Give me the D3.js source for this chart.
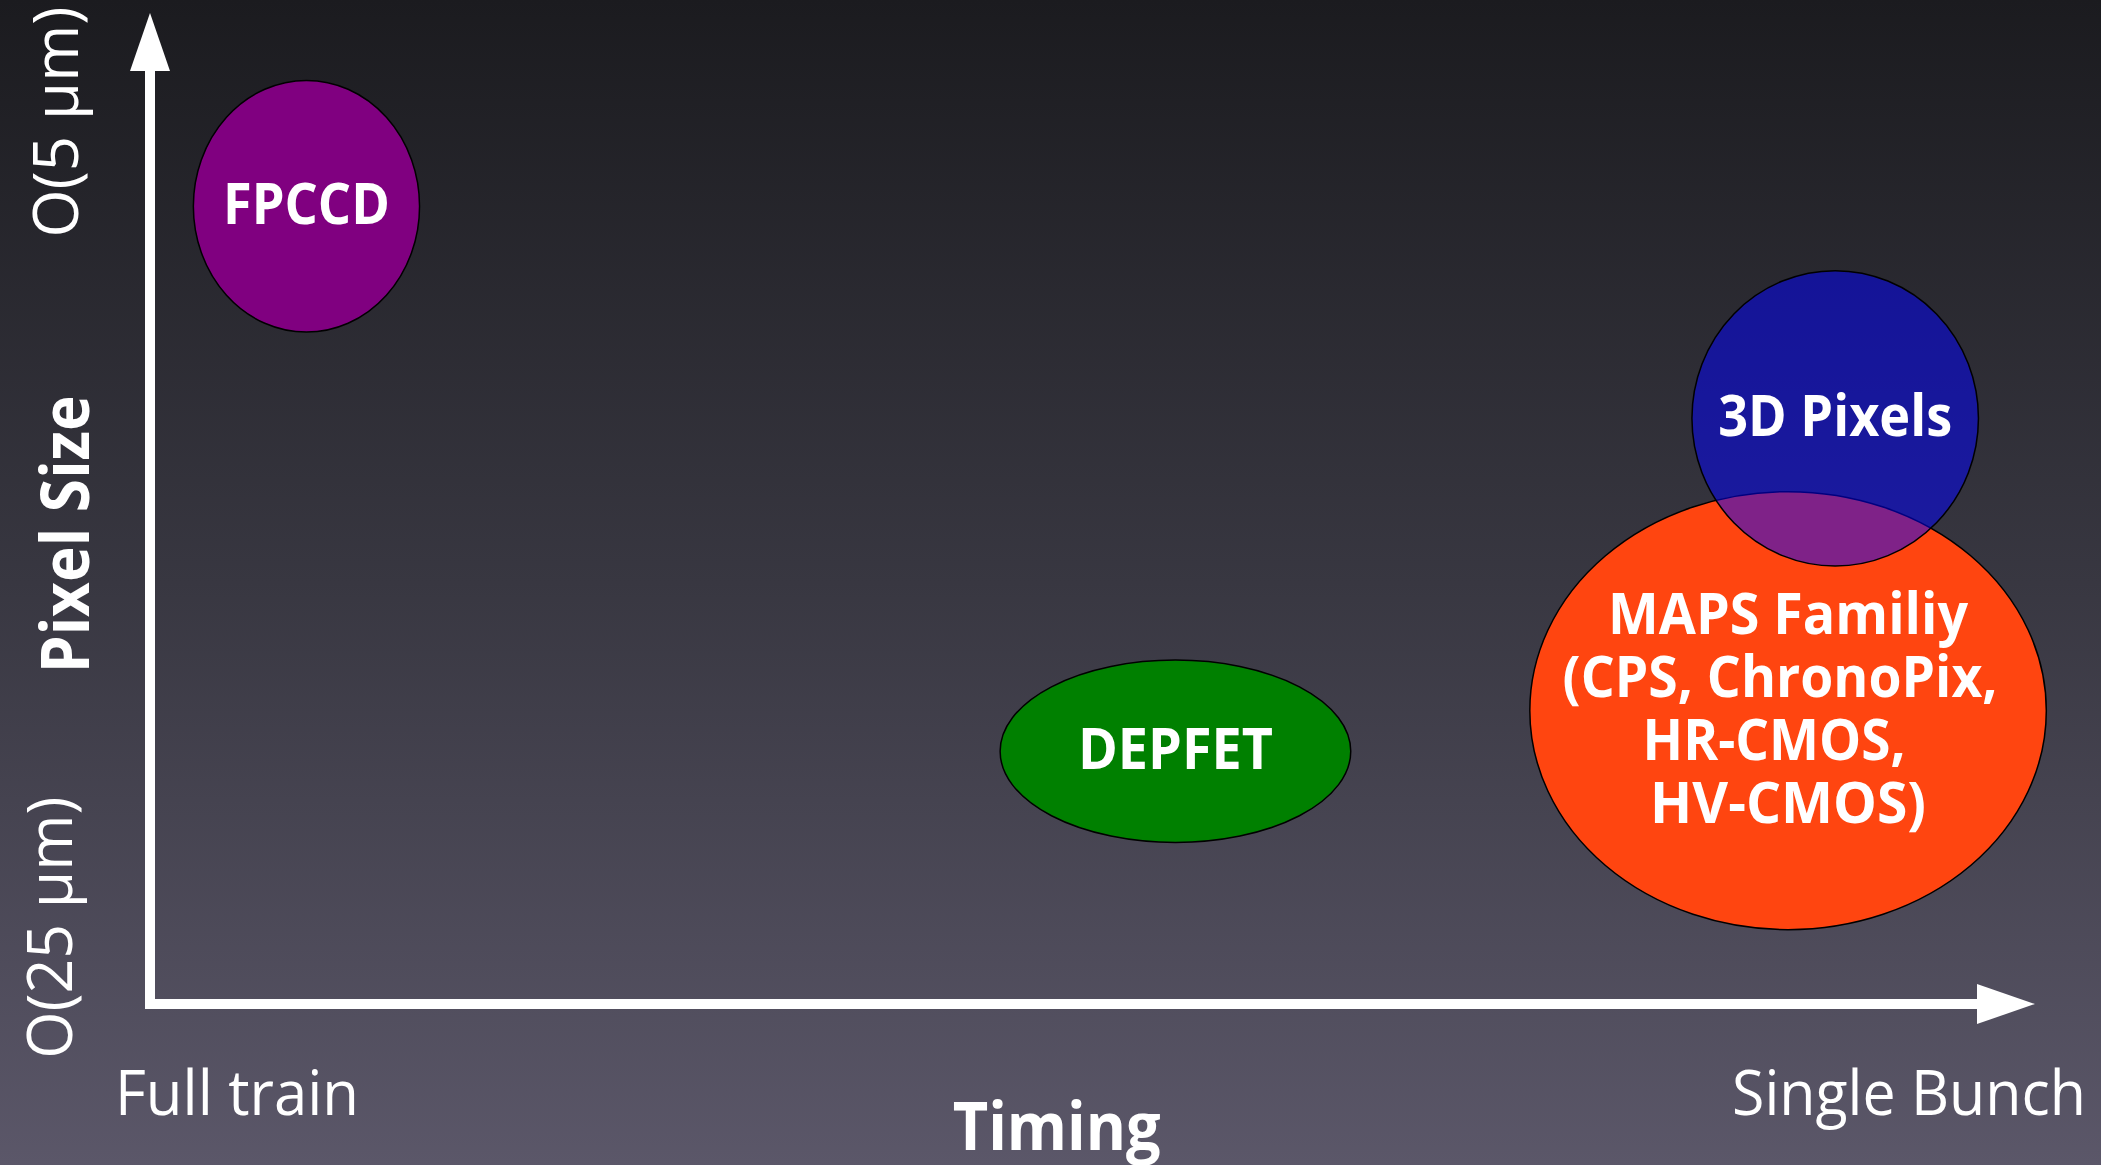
<!DOCTYPE html>
<html>
<head>
<meta charset="utf-8">
<script src="https://cdn.jsdelivr.net/npm/d3@7"></script>
<style>
  html, body { margin: 0; padding: 0; overflow: hidden; background: #2b2a31; }
  svg { display: block; }
</style>
</head>
<body>
<svg id="chart"></svg>
<script>
// Vertex-detector technologies placed by readout timing (x) and pixel size (y).
const technologies = ["FPCCD", "DEPFET", "MAPS Familiy", "3D Pixels"];
const timingCentre = [8.3, 54.4, 86.9, 89.4];     // 0 = full train, 100 = single bunch
const timingSpread = [6.0, 9.3, 13.7, 7.6];
const sizeCentre   = [80.5, 25.5, 29.6, 59.1];    // 0 = O(25 µm), 100 = O(5 µm)
const sizeSpread   = [12.7, 9.2, 22.1, 14.9];
const labelLines = [
  ["FPCCD"],
  ["DEPFET"],
  ["MAPS Familiy", "(CPS, ChronoPix,", "HR-CMOS,", "HV-CMOS)"],
  ["3D Pixels"]
];
const timingTicks = ["Full train", "Single Bunch"];
const sizeTicks   = ["O(25 µm)", "O(5 µm)"];
const axisTitles  = ["Timing", "Pixel Size"];

// Styling
const W = 2101, H = 1165;
const fills = ["#800080", "#008000", "#ff4510", "rgba(0, 0, 255, 0.5)"];
const FONT = "'Open Sans', 'DejaVu Sans', sans-serif";
const textWidths = {
  "FPCCD": 167, "DEPFET": 195, "MAPS Familiy": 360, "(CPS, ChronoPix,": 435,
  "HR-CMOS,": 263, "HV-CMOS)": 276, "3D Pixels": 234,
  "Full train": 244, "Single Bunch": 354, "Timing": 208, "Pixel Size": 278,
  "O(25 µm)": 262, "O(5 µm)": 231
};
// lines ending in a comma sit a little left of the centre
const lineShift = { "(CPS, ChronoPix,": -8, "HR-CMOS,": -14 };

const svg = d3.select("#chart").attr("width", W).attr("height", H);

// Background gradient
const defs = svg.append("defs");
const bg = defs.append("linearGradient").attr("id", "bg")
  .attr("x1", 0).attr("y1", 0).attr("x2", 0).attr("y2", 1);
bg.append("stop").attr("offset", "0%").attr("stop-color", "#1b1b1f");
bg.append("stop").attr("offset", "50%").attr("stop-color", "#383741");
bg.append("stop").attr("offset", "100%").attr("stop-color", "#5b5769");
svg.append("rect").attr("width", W).attr("height", H).attr("fill", "url(#bg)");

// Scales: the axis arrows run along the full range of each scale
const x = d3.scaleLinear().domain([0, 100]).range([150, 2035]);
const y = d3.scaleLinear().domain([0, 100]).range([1004, 13]);
const kx = (x(100) - x(0)) / 100;
const ky = (y(0) - y(100)) / 100;

// Axes as arrows
const axis = svg.append("g").attr("fill", "#ffffff").attr("stroke", "#ffffff");
const head = 58, halfW = 20, lw = 10;
axis.append("line")
  .attr("x1", x(0)).attr("y1", y(0) + lw / 2)
  .attr("x2", x(0)).attr("y2", y(100) + head)
  .attr("stroke-width", lw);
axis.append("path").attr("stroke", "none")
  .attr("d", `M${x(0)},${y(100)} L${x(0) + halfW},${y(100) + head} L${x(0) - halfW},${y(100) + head} Z`);
axis.append("line")
  .attr("x1", x(0)).attr("y1", y(0))
  .attr("x2", x(100) - head).attr("y2", y(0))
  .attr("stroke-width", lw);
axis.append("path").attr("stroke", "none")
  .attr("d", `M${x(100)},${y(0)} L${x(100) - head},${y(0) - halfW} L${x(100) - head},${y(0) + halfW} Z`);

function fitText(sel) {
  sel.each(function () {
    const t = d3.select(this).text();
    if (textWidths[t]) d3.select(this).attr("textLength", textWidths[t]).attr("lengthAdjust", "spacingAndGlyphs");
  });
}

// Ellipses
const items = technologies.map((name, i) => ({
  name, i,
  cx: x(timingCentre[i]), cy: y(sizeCentre[i]),
  rx: timingSpread[i] * kx, ry: sizeSpread[i] * ky,
  lines: labelLines[i]
}));

svg.append("g").selectAll("ellipse").data(items).join("ellipse")
  .attr("cx", d => d.cx).attr("cy", d => d.cy)
  .attr("rx", d => d.rx).attr("ry", d => d.ry)
  .attr("fill", d => fills[d.i])
  .attr("stroke", "#000000").attr("stroke-width", 1.5);

// Labels inside the ellipses: one text per ellipse, one tspan per line
const lineH = 63;
const labels = svg.append("g")
  .attr("font-family", FONT).attr("font-weight", 700).attr("font-size", 58)
  .attr("fill", "#ffffff").attr("text-anchor", "middle");
items.forEach(d => {
  const n = d.lines.length;
  const t = labels.append("text");
  t.selectAll("tspan").data(d.lines).join("tspan")
    .attr("x", l => d.cx + (lineShift[l] || 0))
    .attr("y", (l, j) => d.cy + 18 + (j - (n - 1) / 2) * lineH)
    .text(l => l)
    .call(fitText);
});

// Timing axis labels
const tx = svg.append("g").attr("font-family", FONT).attr("fill", "#ffffff");
tx.append("text").attr("x", x(0) - 35).attr("y", 1115)
  .attr("font-size", 62).attr("text-anchor", "start")
  .text(timingTicks[0]).call(fitText);
tx.append("text").attr("x", x(100) + 51).attr("y", 1115)
  .attr("font-size", 62).attr("text-anchor", "end")
  .text(timingTicks[1]).call(fitText);
tx.append("text").attr("x", x(48.1)).attr("y", 1150)
  .attr("font-size", 66).attr("font-weight", 700).attr("text-anchor", "middle")
  .text(axisTitles[0]).call(fitText);

// Pixel size axis labels (rotated)
const ty = svg.append("g").attr("font-family", FONT).attr("fill", "#ffffff").attr("text-anchor", "middle");
ty.append("text").attr("transform", `translate(72,${y(7.7)}) rotate(-90)`)
  .attr("font-size", 62).text(sizeTicks[0]).call(fitText);
ty.append("text").attr("transform", `translate(78,${y(89)}) rotate(-90)`)
  .attr("font-size", 62).text(sizeTicks[1]).call(fitText);
ty.append("text").attr("transform", `translate(89,${y(47.4)}) rotate(-90)`)
  .attr("font-size", 66).attr("font-weight", 700).text(axisTitles[1]).call(fitText);
</script>
</body>
</html>
